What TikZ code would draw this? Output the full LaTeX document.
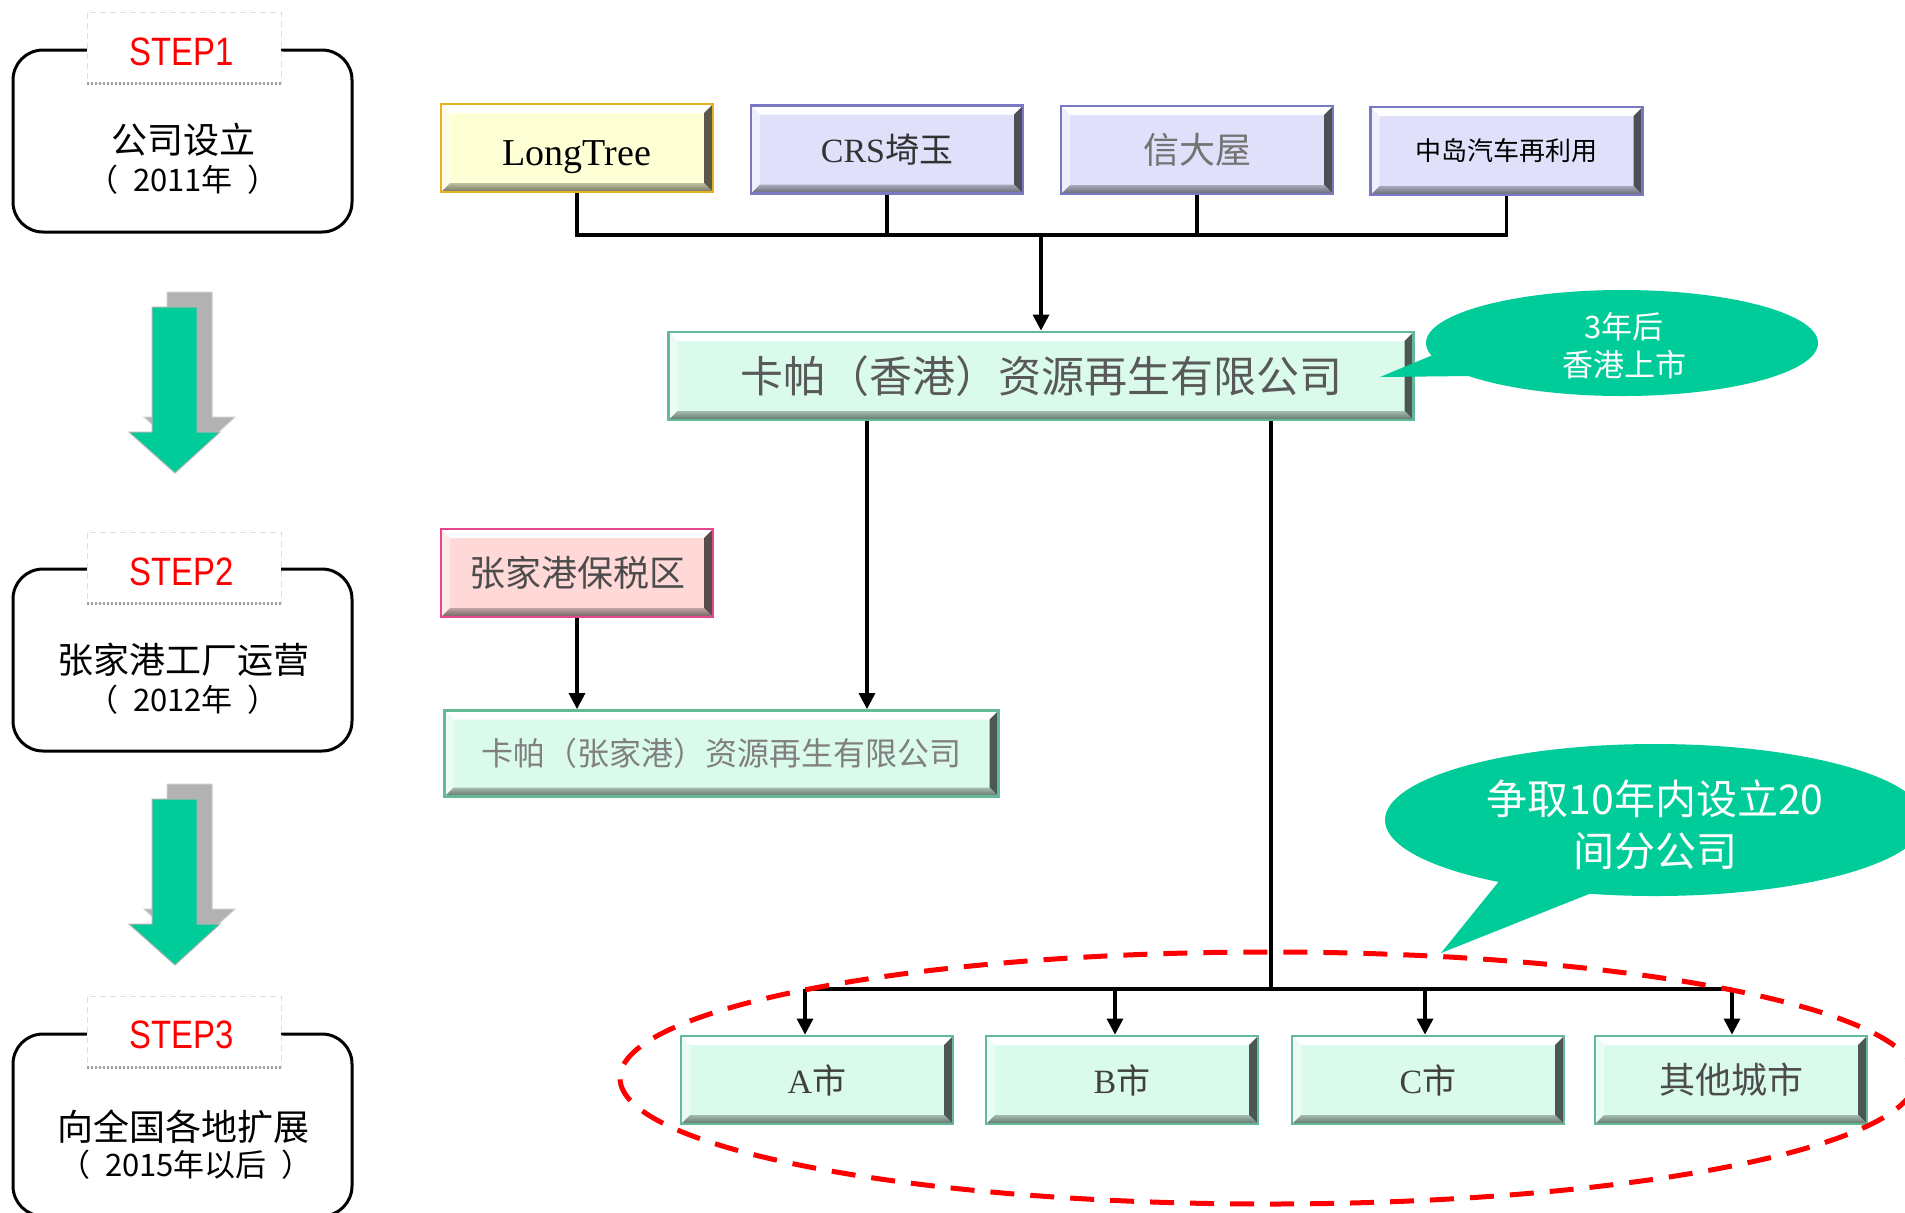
\documentclass[tikz,border=0pt]{standalone}
\usepackage{fontspec}
\setmainfont{Liberation Serif}
\newfontfamily\cjk{Noto Sans CJK SC}
\newfontfamily\stepfnt[FakeStretch=0.83]{Liberation Sans}
\usetikzlibrary{arrows.meta,calc}
\definecolor{tgreen}{RGB}{0,204,153}
\definecolor{shadowgray}{RGB}{178,178,178}
\definecolor{ltyellow}{RGB}{255,255,214}
\definecolor{ltgold}{RGB}{232,178,30}
\definecolor{lavender}{RGB}{224,224,250}
\definecolor{lavborder}{RGB}{120,120,196}
\definecolor{ltpink}{RGB}{255,216,216}
\definecolor{pinkborder}{RGB}{230,70,140}
\definecolor{mint}{RGB}{218,250,236}
\definecolor{mintborder}{RGB}{100,185,150}
\def\bw{4.5pt}
\tikzset{
  conn/.style={line width=1.6pt, black},
  arr/.style={conn, -{Triangle[width=8pt,length=8pt]}},
  stepframe/.style={draw, line width=1.5pt, rounded corners=15pt, minimum width=169.5pt, minimum height=91pt, inner sep=0},
  steplab/.style={fill=white, draw=gray!25, densely dashed, line width=0.4pt, minimum width=97pt, minimum height=35.5pt, inner sep=0},
  steptxt/.style={text=red, font=\stepfnt\fontsize{19.8pt}{22pt}\selectfont, inner sep=0},
  bigcjk/.style={font=\cjk\fontsize{18pt}{21pt}\selectfont, inner sep=0},
  yeartxt/.style={font=\cjk\fontsize{15.5pt}{18pt}\selectfont, inner sep=0},
  bubbletxt/.style={text=white, align=center, inner sep=0},
  bigarrow/.style={fill=tgreen, draw=gray!60, line width=0.5pt},
  shadowarrow/.style={fill=shadowgray, draw=gray!40, line width=0.5pt},
  bevel/.style 2 args={fill=#1, draw=#2, line width=1.4pt, inner sep=0,
    path picture={
      \path (path picture bounding box.north west) coordinate (pNW)
            (path picture bounding box.north east) coordinate (pNE)
            (path picture bounding box.south east) coordinate (pSE)
            (path picture bounding box.south west) coordinate (pSW);
      \fill[white] (pNW) -- (pNE) -- ([xshift=-\bw,yshift=-\bw]pNE) -- ([xshift=\bw,yshift=-\bw]pNW) -- cycle;
      \fill[#1!55!white] (pNW) -- ([xshift=\bw,yshift=-\bw]pNW) -- ([xshift=\bw,yshift=\bw]pSW) -- (pSW) -- cycle;
      \fill[#1!35!black] (pNE) -- (pSE) -- ([xshift=-\bw,yshift=\bw]pSE) -- ([xshift=-\bw,yshift=-\bw]pNE) -- cycle;
      \shade[top color=#1!75!black, bottom color=#1!45!black] (pSW) -- ([xshift=\bw,yshift=\bw]pSW) -- ([xshift=-\bw,yshift=\bw]pSE) -- (pSE) -- cycle;
    }},
  smallbox/.style={minimum width=136pt, minimum height=44pt},
}
\begin{document}
\begin{tikzpicture}[x=0.5pt,y=-0.5pt]
\useasboundingbox (0,0) rectangle (1905,1212);

% ---------- left column: steps ----------
\node[stepframe] (F1) at (182.5,141) {};
\node[steplab] (L1) at (184,47.5) {};
\draw[gray!70, line width=1.5pt, dash pattern=on 1pt off 1pt] (L1.south west) -- (L1.south east);
\node[steptxt, anchor=base] (S1) at (182,65) {STEP1};
\node[bigcjk] (C1) at (183,140) {公司设立};
\node[yeartxt] (Y1) at (183,180) {（\hspace{7.5pt}2011年\hspace{7.5pt}）};

\node[stepframe] (F2) at (182.5,660) {};
\node[steplab] (L2) at (184,567.5) {};
\draw[gray!70, line width=1.5pt, dash pattern=on 1pt off 1pt] (L2.south west) -- (L2.south east);
\node[steptxt, anchor=base] (S2) at (182,585) {STEP2};
\node[bigcjk] (C2) at (183,660) {张家港工厂运营};
\node[yeartxt] (Y2) at (183,700) {（\hspace{7.5pt}2012年\hspace{7.5pt}）};

\node[stepframe] (F3) at (182.5,1125) {};
\node[steplab] (L3) at (184,1031.5) {};
\draw[gray!70, line width=1.5pt, dash pattern=on 1pt off 1pt] (L3.south west) -- (L3.south east);
\node[steptxt, anchor=base] (S3) at (182,1048) {STEP3};
\node[bigcjk] (C3) at (183,1127) {向全国各地扩展};
\node[yeartxt] (Y3) at (186,1165) {（\hspace{7.5pt}2015年以后\hspace{7.5pt}）};

% ---------- big down arrows ----------
\foreach \dy in {0,492}{
  \filldraw[shadowarrow] (167,292+\dy) -- (212,292+\dy) -- (212,417+\dy) -- (235,417+\dy) -- (190,458+\dy) -- (144,417+\dy) -- (167,417+\dy) -- cycle;
  \filldraw[bigarrow] (152,307+\dy) -- (197,307+\dy) -- (197,432+\dy) -- (220,432+\dy) -- (175,473+\dy) -- (129,432+\dy) -- (152,432+\dy) -- cycle;
}

% ---------- top row ----------
\node[bevel={ltyellow}{ltgold}, smallbox] (LT) at (577,148) {\fontsize{19pt}{22pt}\selectfont\raisebox{-8.5pt}[0pt][0pt]{LongTree}};
\node[bevel={lavender}{lavborder}, smallbox, text=black!80] (CRS) at (887,149.5) {\fontsize{17pt}{20pt}\selectfont\raisebox{-1pt}{CRS{\cjk 埼玉}}};
\node[bevel={lavender}{lavborder}, smallbox, text=black!55] (XDY) at (1197,150) {\cjk\fontsize{18pt}{21pt}\selectfont 信大屋};
\node[bevel={lavender}{lavborder}, smallbox, text=black] (ZD) at (1506.5,151) {\cjk\fontsize{13pt}{16pt}\selectfont 中岛汽车再利用};

\coordinate (bus1) at (1041,235);
\draw[conn] (LT.south) |- (bus1);
\draw[conn] (ZD.south) |- (bus1);
\draw[conn] (CRS.south) -- (CRS.south |- bus1);
\draw[conn] (XDY.south) -- (XDY.south |- bus1);

% ---------- HK company ----------
\node[bevel={mint}{mintborder}, minimum width=372.5pt, minimum height=44pt, text=black!65] (KPHK) at (1041,376) {\cjk\fontsize{21.5pt}{26pt}\selectfont 卡帕（香港）资源再生有限公司};
\draw[arr] (bus1) -- (KPHK.north);

% bubble 1
\fill[tgreen] (1622,343) ellipse [x radius=98pt, y radius=26.5pt];
\fill[tgreen] (1440,352) -- (1380,377) -- (1470,376) -- (1485,350) -- cycle;
\node[bubbletxt, font=\cjk\fontsize{15.5pt}{19pt}\selectfont] (B1) at (1624,346) {3年后\\香港上市};

% ---------- Zhangjiagang ----------
\node[bevel={ltpink}{pinkborder}, smallbox, text=black!70] (BSQ) at (577,573) {\cjk\fontsize{18pt}{21pt}\selectfont 张家港保税区};
\node[bevel={mint}{mintborder}, minimum width=277pt, minimum height=43pt, text=black!50] (ZJG) at (721.5,753.5) {\cjk\fontsize{16pt}{19pt}\selectfont 卡帕（张家港）资源再生有限公司};
\coordinate (d1) at (867,0);
\draw[arr] (BSQ.south) -- (ZJG.north -| BSQ.south);
\draw[arr] (KPHK.south -| d1) -- (ZJG.north -| d1);

% ---------- cities ----------
\node[bevel={mint}{mintborder}, smallbox, text=black!75] (A) at (817,1080) {\fontsize{17pt}{20pt}\selectfont A{\cjk 市}};
\node[bevel={mint}{mintborder}, smallbox, text=black!75] (B) at (1122,1080) {\fontsize{17pt}{20pt}\selectfont B{\cjk 市}};
\node[bevel={mint}{mintborder}, smallbox, text=black!75] (C) at (1428,1080) {\fontsize{17pt}{20pt}\selectfont C{\cjk 市}};
\node[bevel={mint}{mintborder}, smallbox, text=black!70] (O) at (1731,1080) {\cjk\fontsize{18pt}{21pt}\selectfont 其他城市};

\coordinate (bus2) at (1271,989);
\coordinate (ax) at (805,989);
\coordinate (bx) at (1115,989);
\coordinate (cx) at (1425,989);
\coordinate (ox) at (1732,989);
\draw[conn] (KPHK.south -| bus2) -- (bus2);
\draw[conn] (ax) -- (ox);
\draw[arr] (ax) -- (A.north -| ax);
\draw[arr] (bx) -- (B.north -| bx);
\draw[arr] (cx) -- (C.north -| cx);
\draw[arr] (ox) -- (O.north -| ox);

% bubble 2
\fill[tgreen] (1655,820) ellipse [x radius=135pt, y radius=38pt];
\fill[tgreen] (1500,880) -- (1441,953) -- (1594,892) -- (1560,860) -- cycle;
\node[bubbletxt, font=\cjk\fontsize{20.5pt}{26pt}\selectfont] (B2) at (1655,825) {争取10年内设立20\\间分公司};

% red dashed ellipse
\draw[red, line width=2.5pt, dash pattern=on 12pt off 8pt] (1268,1078) ellipse [x radius=324pt, y radius=63pt];
\end{tikzpicture}
\end{document}
